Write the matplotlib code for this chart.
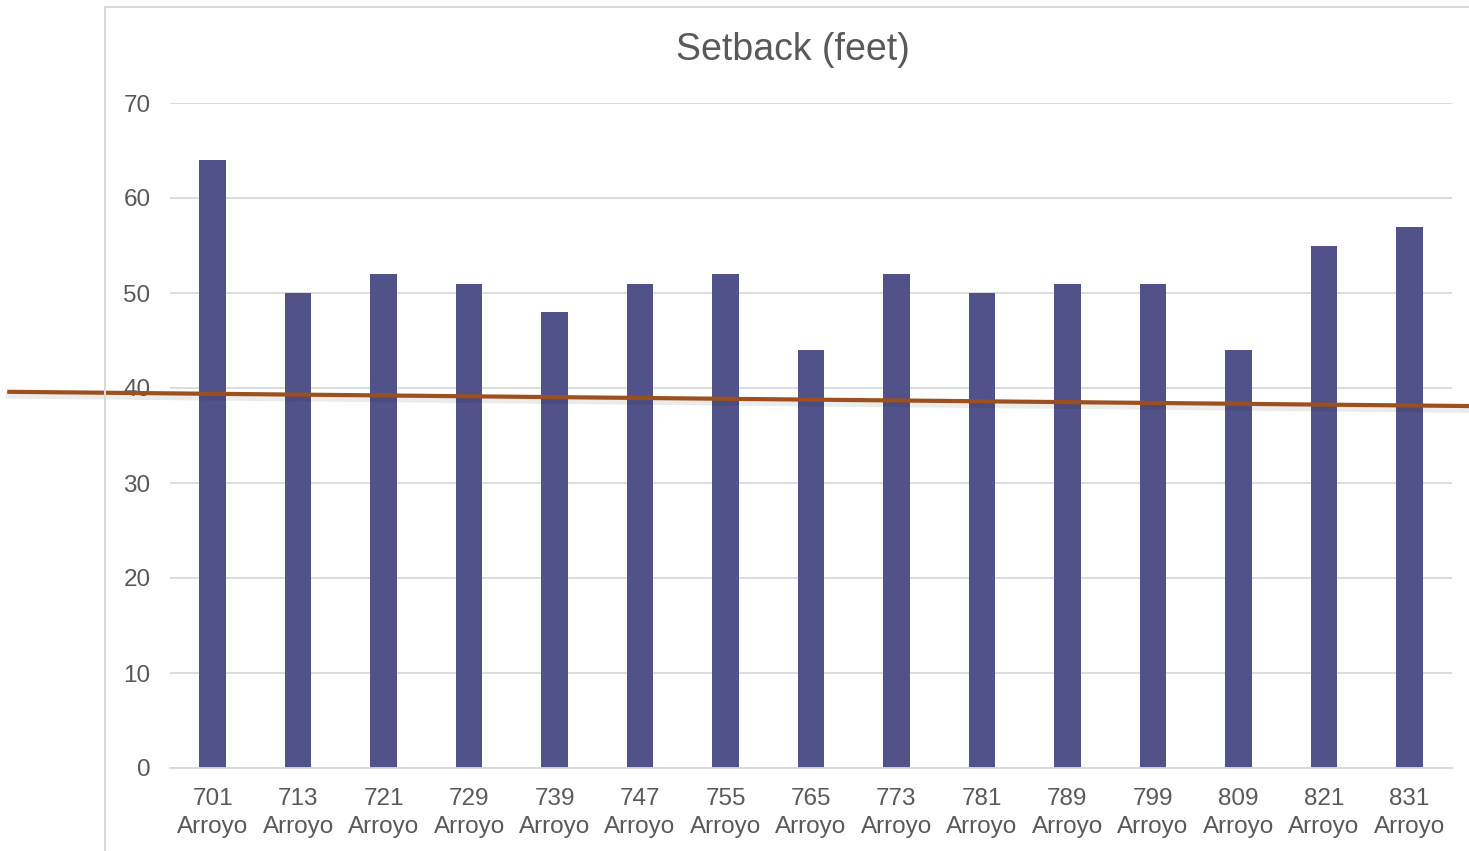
import matplotlib.pyplot as plt
from matplotlib.patches import Rectangle

# data
addresses = ['701', '713', '721', '729', '739', '747', '755', '765',
             '773', '781', '789', '799', '809', '821', '831']
setback = [64, 50, 52, 51, 48, 51, 52, 44, 52, 50, 51, 51, 44, 55, 57]
labels = [a + '\nArroyo' for a in addresses]

# hand-drawn line across the chart (data coords)
line_x = [-2.38, 14.70]
line_y = [39.6, 38.1]

plt.rcParams['font.family'] = ['Liberation Sans', 'DejaVu Sans']
txt = '#595959'

fig = plt.figure(figsize=(14.69, 8.51), dpi=100)
ax = fig.add_axes([170 / 1469, 1 - 768 / 851, (1452 - 170) / 1469, (768 - 103) / 851])

# outer chart frame
fig.add_artist(Rectangle((105 / 1469, -0.1), 1.0, 1.1 - 7 / 851, transform=fig.transFigure,
                         fill=False, edgecolor='#D9D9D9', linewidth=1.5))

x = range(len(setback))
ax.bar(x, setback, width=0.31, color='#52528A', zorder=2)

ax.set_xlim(-0.5, len(setback) - 0.5)
ax.set_ylim(0, 70)
ax.set_yticks(range(0, 71, 10))
ax.set_xticks(list(x))
ax.set_xticklabels(labels, linespacing=1.35)
ax.tick_params(axis='both', length=0, labelsize=17.5, colors=txt)
ax.tick_params(axis='x', pad=14.5)
ax.tick_params(axis='y', pad=14)
ax.grid(axis='y', color='#D9D9D9', linewidth=1.3, zorder=0)
for s in ['top', 'right', 'left']:
    ax.spines[s].set_visible(False)
ax.spines['bottom'].set_color('#D9D9D9')
ax.spines['bottom'].set_linewidth(1.3)

fig.text(793 / 1469, 1 - 50 / 851, 'Setback (feet)', ha='center', va='center',
         fontsize=27, color=txt)

# shadow + line
ax.plot(line_x, [v - 0.35 for v in line_y], color='#000000', alpha=0.08, linewidth=5,
        clip_on=False, zorder=3)
ax.plot(line_x, line_y, color='#9C4F1F', linewidth=3, clip_on=False, zorder=4)

fig.savefig('out.png', dpi=100)
